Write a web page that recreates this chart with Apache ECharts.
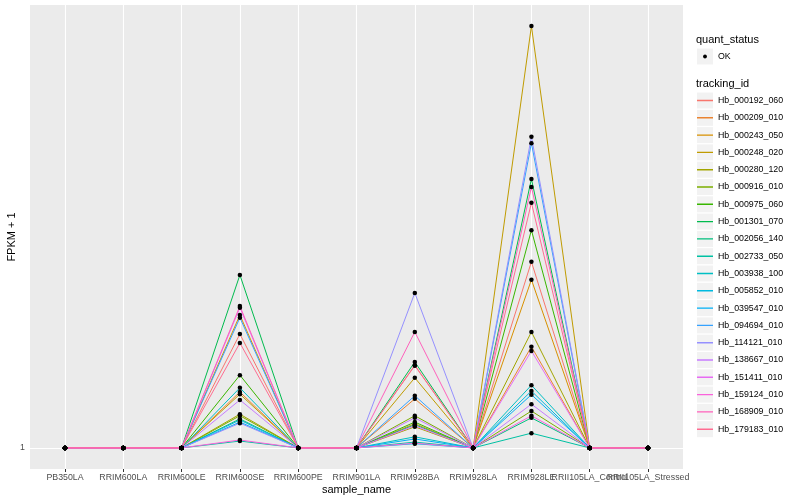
<!DOCTYPE html>
<html>
<head>
<meta charset="utf-8">
<script src="https://cdn.jsdelivr.net/npm/echarts@6/dist/echarts.min.js"></script>
<style>html,body{margin:0;padding:0;background:#fff}#c{width:800px;height:500px}</style>
</head>
<body>
<div id="c"></div>
<script>
const categories = ['PB350LA','RRIM600LA','RRIM600LE','RRIM600SE','RRIM600PE','RRIM901LA','RRIM928BA','RRIM928LA','RRIM928LE','RRII105LA_Control','RRII105LA_Stressed'];
const trackingIds = ['Hb_000192_060','Hb_000209_010','Hb_000243_050','Hb_000248_020','Hb_000280_120','Hb_000916_010','Hb_000975_060','Hb_001301_070','Hb_002056_140','Hb_002733_050','Hb_003938_100','Hb_005852_010','Hb_039547_010','Hb_094694_010','Hb_114121_010','Hb_138667_010','Hb_151411_010','Hb_159124_010','Hb_168909_010','Hb_179183_010'];
const colors = ['#F8766D','#EA8331','#D89000','#C09B00','#A3A500','#7CAE00','#39B600','#00BB4E','#00BF7D','#00C1A3','#00BFC4','#00BAE0','#00B0F6','#35A2FF','#9590FF','#C77CFF','#E76BF3','#FA62DB','#FF62BC','#FF6C91'];
// FPKM + 1 per sample (columns follow categories), one row per tracking id
const v0  = [1,1,1,3.16,1,1,2.56,1,4.53,1,1];
const v1  = [1,1,1,2.06,1,1,1.93,1,2.92,1,1];
const v2  = [1,1,1,3.52,1,1,1.46,1,4.19,1,1];
const v3  = [1,1,1,2.02,1,1,2.33,1,9.00,1,1];
const v4  = [1,1,1,1.64,1,1,1.40,1,3.20,1,1];
const v5  = [1,1,1,1.61,1,1,1.61,1,1.70,1,1];
const v6  = [1,1,1,2.38,1,1,1.49,1,5.13,1,1];
const v7  = [1,1,1,4.28,1,1,2.63,1,6.10,1,1];
const v8  = [1,1,1,1.55,1,1,1.44,1,1.57,1,1];
const v9  = [1,1,1,1.13,1,1,1.11,1,1.28,1,1];
const v10 = [1,1,1,2.14,1,1,1.21,1,2.19,1,1];
const v11 = [1,1,1,1.53,1,1,1.08,1,2.08,1,1];
const v12 = [1,1,1,1.49,1,1,1.17,1,2.01,1,1];
const v13 = [1,1,1,3.47,1,1,1.99,1,6.78,1,1];
const v14 = [1,1,1,1.47,1,1,3.94,1,6.90,1,1];
const v15 = [1,1,1,1.91,1,1,1.57,1,1.83,1,1];
const v16 = [1,1,1,3.66,1,1,1.42,1,2.84,1,1];
const v17 = [1,1,1,1.15,1,1,1.09,1,1.61,1,1];
const v18 = [1,1,1,3.69,1,1,3.20,1,5.95,1,1];
const v19 = [1,1,1,2.99,1,1,2.57,1,5.65,1,1];
const values = [v0,v1,v2,v3,v4,v5,v6,v7,v8,v9,v10,v11,v12,v13,v14,v15,v16,v17,v18,v19];
const yTicks = [1];

const FONT = "'Liberation Sans', Arial, sans-serif";
const idx = categories.map((c, i) => i);
const evenIdx = idx.filter(i => i % 2 === 0);
const oddIdx = idx.filter(i => i % 2 === 1);

const series = trackingIds.map((id, k) => ({
  name: id,
  type: 'line',
  color: colors[k],
  showSymbol: false,
  lineStyle: { color: colors[k], width: 1 },
  data: values[k].map((v, i) => [i, v]),
  silent: true
}));
const pts = [];
values.forEach(row => row.forEach((v, i) => pts.push([i, v])));
series.push({
  name: 'OK', type: 'scatter', color: '#000', symbol: 'circle', symbolSize: 4.5,
  itemStyle: { color: '#000', opacity: 1 }, data: pts, silent: true, z: 5
});

const boxLegend = (names, top) => ({
  orient: 'vertical', left: 697, top: top, itemWidth: 16, itemHeight: 16, itemGap: 1.3, padding: 0,
  selectedMode: false, icon: 'rect',
  textStyle: { color: 'rgba(0,0,0,0)', fontSize: 8.8, fontFamily: FONT },
  data: names.map(n => ({ name: n, itemStyle: { color: '#F2F2F2', borderWidth: 0 } }))
});
const corners = 'M0,0h0.05v0.05h-0.05zM15.95,15.95h0.05v0.05h-0.05z';
const lineIcon = 'path://' + corners + 'M0,7.3h16v1.4h-16z';
const dotIcon = 'path://' + corners + 'M10,8L9.4,9.4L8,10L6.6,9.4L6,8L6.6,6.6L8,6L9.4,6.6Z';

const xLabel = (vals) => ({
  customValues: vals, formatter: v => categories[Math.round(v)], color: '#4D4D4D', fontSize: 8.8,
  margin: 4.5, fontFamily: FONT, hideOverlap: false, showMinLabel: true, showMaxLabel: true
});

const option = {
  animation: false,
  backgroundColor: '#ffffff',
  textStyle: { fontFamily: FONT },
  title: [
    { text: 'quant_status', left: 696, top: 34.5, padding: 0, textStyle: { fontSize: 11, fontWeight: 'normal', color: '#000', fontFamily: FONT } },
    { text: 'tracking_id', left: 696, top: 78.5, padding: 0, textStyle: { fontSize: 11, fontWeight: 'normal', color: '#000', fontFamily: FONT } }
  ],
  legend: [
    boxLegend(['OK'], 48.5),
    {
      orient: 'vertical', left: 697, top: 48.5, itemWidth: 16, itemHeight: 16, padding: 0,
      selectedMode: false, icon: dotIcon,
      textStyle: { color: '#000', fontSize: 8.8, fontFamily: FONT },
      data: [{ name: 'OK', itemStyle: { color: '#000', borderWidth: 0 } }]
    },
    boxLegend(trackingIds, 92.5),
    {
      orient: 'vertical', left: 697, top: 92.5, itemWidth: 16, itemHeight: 16, itemGap: 1.3, padding: 0,
      selectedMode: false, icon: lineIcon,
      textStyle: { color: '#000', fontSize: 8.8, fontFamily: FONT },
      data: trackingIds.map((n, k) => ({ name: n, itemStyle: { color: colors[k], borderWidth: 0 } }))
    }
  ],
  grid: { left: 30, right: 117, top: 5, bottom: 31, show: true, backgroundColor: '#EBEBEB', borderWidth: 0, containLabel: false, outerBoundsMode: 'none' },
  xAxis: [
    {
      type: 'value', min: -0.6, max: 10.6, position: 'bottom',
      name: 'sample_name', nameLocation: 'middle', nameGap: 15, nameMoveOverlap: false,
      nameTextStyle: { color: '#000', fontSize: 11, fontFamily: FONT },
      axisLine: { show: false },
      axisTick: { show: true, length: 3, lineStyle: { color: '#333333', width: 1 }, customValues: idx },
      axisLabel: xLabel(evenIdx),
      splitLine: { show: true, lineStyle: { color: '#FFFFFF', width: 1.1 } }
    },
    {
      type: 'value', min: -0.6, max: 10.6, position: 'bottom', offset: 0,
      axisLine: { show: false },
      axisTick: { show: false, customValues: oddIdx },
      axisLabel: xLabel(oddIdx),
      splitLine: { show: false }
    }
  ],
  yAxis: {
    type: 'value', min: 0.6, max: 9.4,
    name: 'FPKM + 1', nameLocation: 'middle', nameGap: 12.5, nameRotate: 90, nameMoveOverlap: false,
    nameTextStyle: { color: '#000', fontSize: 11, fontFamily: FONT },
    axisLine: { show: false },
    axisTick: { show: true, length: 3, lineStyle: { color: '#333333', width: 1 }, customValues: yTicks },
    axisLabel: { customValues: yTicks, color: '#4D4D4D', fontSize: 8.8, margin: 5, fontFamily: FONT },
    splitLine: { show: true, lineStyle: { color: '#FFFFFF', width: 1.1 } }
  },
  series: series
};
const chart = echarts.init(document.getElementById('c'), null, { renderer: 'canvas' });
chart.setOption(option);
</script>
</body>
</html>
